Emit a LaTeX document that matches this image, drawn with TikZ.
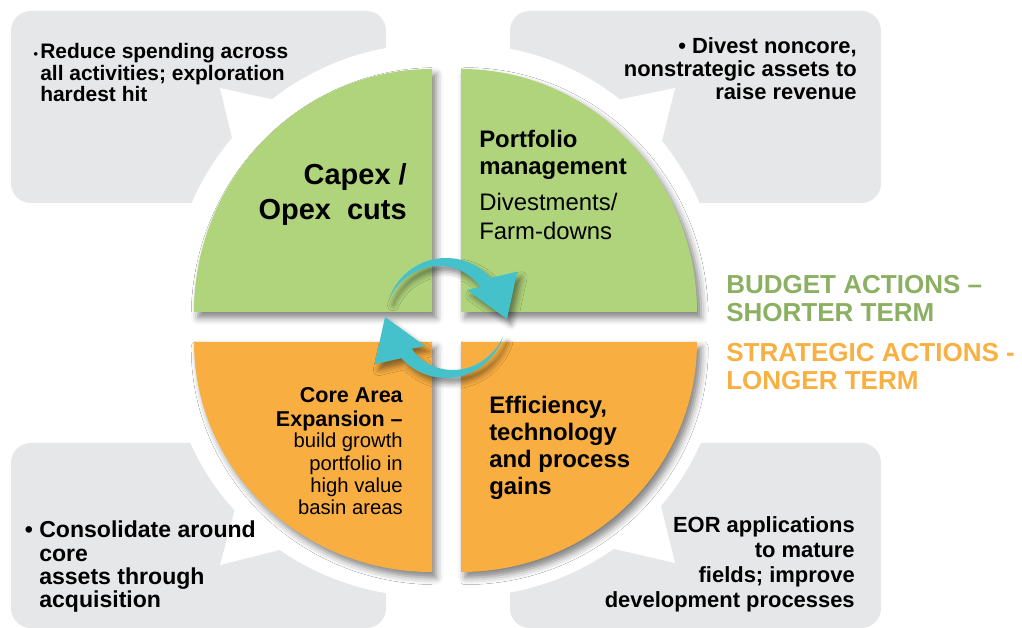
\documentclass[tikz,border=0pt]{standalone}
\usepackage{fontspec}
\setmainfont{Liberation Sans}
\usetikzlibrary{shadows.blur}
\definecolor{leaf}{RGB}{176,212,124}
\definecolor{amber}{RGB}{249,174,66}
\definecolor{mist}{RGB}{230,231,232}
\definecolor{lagoon}{RGB}{69,193,204}
\definecolor{sage}{RGB}{140,176,98}
\definecolor{tangerine}{RGB}{248,176,66}
\newcommand\fs[2]{\fontsize{#1}{#2}\selectfont}

\begin{document}
\begin{tikzpicture}[x=0.025cm,y=-0.025cm,
    note/.style={fill=mist,rounded corners=14pt},
    quad/.style={blur shadow={shadow xshift=3pt,shadow yshift=-4pt,shadow blur radius=5pt,shadow opacity=50}},
    txt/.style={inner sep=0pt,font=\bfseries}]
  \useasboundingbox (0,0) rectangle (1022,628);

  % grey callouts behind the pie
  \foreach \x/\y/\w/\h in {11/11/375/192,510/11/371/192,11/443/375/185,510/443/371/185}
    \fill[note] (\x,\y) rectangle ++(\w,\h);

  % white ring round each quarter, with its pointer
  \foreach \cx/\cy/\a/\rx/\ry in {432/312/180/263/268,461/312/270/261/268,432/342/90/263/255,461/342/0/261/255}
    \fill[white] (\cx,\cy) -- ++(\a:{\rx} and {\ry}) arc[start angle=\a,end angle=\a+90,x radius=\rx,y radius=\ry] -- cycle;
  \fill[white] (220,88) -- (233,142) -- (275,100) -- cycle;
  \fill[white] (675,88) -- (617,100) -- (661,145) -- cycle;
  \fill[white] (220,565) -- (237,502) -- (287,548) -- cycle;
  \fill[white] (675,563) -- (659,498) -- (606,547) -- cycle;

  % the four quarters
  \foreach \cx/\cy/\a/\rx/\ry/\c in {432/312/180/238/243/leaf,461/312/270/236/243/leaf,432/342/90/238/230/amber,461/342/0/236/230/amber}
    \fill[\c,quad] (\cx,\cy) -- ++(\a:{\rx} and {\ry}) arc[start angle=\a,end angle=\a+90,x radius=\rx,y radius=\ry] -- cycle;

  % a node's base is its last line
  \node[txt,anchor=base east,align=right,font=\fs{20.6pt}{24.9pt}\bfseries] (capex) at (407,220) {Capex /\\Opex\ \ cuts};
  \node[txt,anchor=base west,align=left,font=\fs{17pt}{19.2pt}\bfseries] (portfolio) at (479,175) {Portfolio\\management};
  \node[inner sep=0pt,anchor=base west,align=left,font=\fs{17pt}{21.3pt}] (divest) at (479,240) {Divestments/\\Farm-downs};
  \node[txt,anchor=base east,align=right,font=\fs{15.3pt}{17.1pt}\bfseries] (core) at (403,427) {Core Area\\Expansion --};
  \node[inner sep=0pt,anchor=base east,align=right,font=\fs{14.4pt}{15.9pt}] (growth) at (403,515) {build growth\\portfolio in\\high value\\basin areas};
  \node[txt,anchor=base west,align=left,font=\fs{17pt}{19.2pt}\bfseries] (effic) at (489,495) {Efficiency,\\technology\\and process\\gains};

  \node[txt,anchor=base west,align=left,font=\fs{14.9pt}{15.6pt}\bfseries] (cutsnote) at (40,102)
    {\llap{\small\textbullet\,}Reduce spending across\\all activities; exploration\\hardest hit};
  \node[txt,anchor=base east,align=right,font=\fs{15.6pt}{16.7pt}\bfseries] (divnote) at (857,100)
    {\textbullet\ Divest noncore,\\nonstrategic assets to\\raise revenue};
  \node[txt,anchor=base west,align=left,font=\fs{16.4pt}{16.6pt}\bfseries] (corenote) at (39,608)
    {\llap{\textbullet\ }Consolidate around\\core\\assets through\\acquisition};
  \node[txt,anchor=base east,align=right,font=\fs{15.6pt}{18pt}\bfseries] (eornote) at (855,608)
    {EOR applications\\to mature\\fields; improve\\development processes};

  \node[txt,text=sage,anchor=base west,align=left,font=\fs{18.5pt}{20.6pt}\bfseries] (budget) at (726,322)
    {BUDGET ACTIONS --\\SHORTER TERM};
  \node[txt,text=tangerine,anchor=base west,align=left,font=\fs{18.5pt}{20.6pt}\bfseries] (strategic) at (726,390)
    {STRATEGIC ACTIONS -\\LONGER TERM};

  % turning arrows in the middle
  \foreach \r in {0,180}
    \fill[lagoon,shift={(446,318)},rotate=\r,blur shadow={shadow xshift=3pt,shadow yshift=-4pt,shadow blur radius=4pt,shadow opacity=45}]
      (198:60) arc[start angle=198,end angle=318,radius=60] -- (327:85) -- (1:61) -- (307:35) -- (318:46)
      -- plot[domain=318:198,samples=30] (\x:{46+14*(318-\x)/120}) -- cycle;
\end{tikzpicture}
\end{document}
